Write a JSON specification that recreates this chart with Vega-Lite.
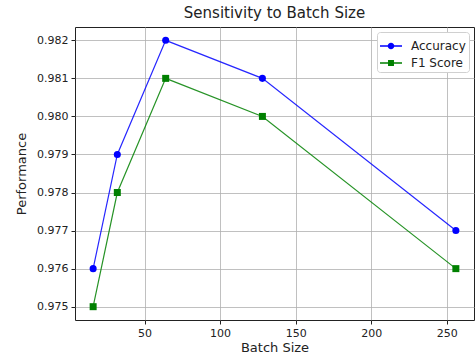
{
  "$schema": "https://vega.github.io/schema/vega-lite/v6.json",
  "width": 399,
  "height": 293,
  "autosize": {"type": "none"},
  "padding": {"left": 75, "top": 27, "right": 2, "bottom": 36},
  "background": "white",
  "config": {
    "font": "DejaVu Sans",
    "view": {"stroke": "#222", "strokeWidth": 1},
    "axis": {
      "labelFont": "DejaVu Sans",
      "titleFont": "DejaVu Sans",
      "labelFontSize": 11,
      "titleFontSize": 13,
      "titleFontWeight": "normal",
      "labelColor": "#222",
      "titleColor": "#222",
      "gridColor": "#b0b0b0",
      "gridWidth": 0.8,
      "tickColor": "#222",
      "tickSize": 4,
      "domain": false
    },
    "legend": {"labelFont": "DejaVu Sans", "labelFontSize": 12, "labelColor": "#222"}
  },
  "title": {"text": "Sensitivity to Batch Size", "fontSize": 15, "font": "DejaVu Sans", "fontWeight": "normal", "color": "#222", "offset": 6},
  "data": {"values": [
    {"batch": 16, "metric": "Accuracy", "value": 0.976},
    {"batch": 32, "metric": "Accuracy", "value": 0.979},
    {"batch": 64, "metric": "Accuracy", "value": 0.982},
    {"batch": 128, "metric": "Accuracy", "value": 0.981},
    {"batch": 256, "metric": "Accuracy", "value": 0.977},
    {"batch": 16, "metric": "F1 Score", "value": 0.975},
    {"batch": 32, "metric": "F1 Score", "value": 0.978},
    {"batch": 64, "metric": "F1 Score", "value": 0.981},
    {"batch": 128, "metric": "F1 Score", "value": 0.980},
    {"batch": 256, "metric": "F1 Score", "value": 0.976}
  ]},
  "encoding": {
    "x": {"field": "batch", "type": "quantitative", "scale": {"domain": [4, 268], "nice": false, "zero": false},
      "axis": {"values": [50, 100, 150, 200, 250], "title": "Batch Size", "titlePadding": 3, "labelPadding": 3}},
    "y": {"field": "value", "type": "quantitative", "scale": {"domain": [0.97465, 0.98235], "nice": false, "zero": false},
      "axis": {"values": [0.975, 0.976, 0.977, 0.978, 0.979, 0.98, 0.981, 0.982], "format": ".3f", "title": "Performance", "titlePadding": 8, "labelPadding": 3}},
    "color": {"field": "metric", "type": "nominal", "scale": {"domain": ["Accuracy", "F1 Score"], "range": ["#0000ff", "#008000"]},
      "legend": {"title": null, "orient": "top-right", "offset": 5, "fillColor": "white", "strokeColor": "#d0d0d0", "cornerRadius": 3, "padding": 3, "rowPadding": -3,
        "symbolSize": 484, "symbolOpacity": 1, "symbolStrokeWidth": 0, "labelOffset": 9}}
  },
  "layer": [
    {"mark": {"type": "line", "strokeWidth": 1.2, "opacity": 0.85}},
    {"transform": [{"filter": "datum.metric === 'Accuracy'"}],
      "mark": {"type": "point", "filled": true, "opacity": 1, "size": 50, "shape": "circle"}},
    {"transform": [{"filter": "datum.metric === 'F1 Score'"}],
      "mark": {"type": "point", "filled": true, "opacity": 1, "size": 49, "shape": "square"}},
    {"mark": {"type": "point", "filled": true, "opacity": 1, "size": 0},
      "encoding": {"shape": {"field": "metric", "type": "nominal",
        "scale": {"domain": ["Accuracy", "F1 Score"], "range": ["M-1,-0.06H1V0.06H-1ZM-0.3,0A0.3,0.3 0 1,1 0.3,0A0.3,0.3 0 1,1 -0.3,0Z", "M-1,-0.06H1V0.06H-1ZM-0.27,-0.27H0.27V0.27H-0.27Z"]},
        "legend": {"title": null, "orient": "top-right", "offset": 5, "fillColor": "white", "strokeColor": "#d0d0d0", "cornerRadius": 3, "padding": 3, "rowPadding": -3,
          "symbolSize": 484, "symbolOpacity": 1, "symbolStrokeWidth": 0, "labelOffset": 9}}}}
  ]
}
